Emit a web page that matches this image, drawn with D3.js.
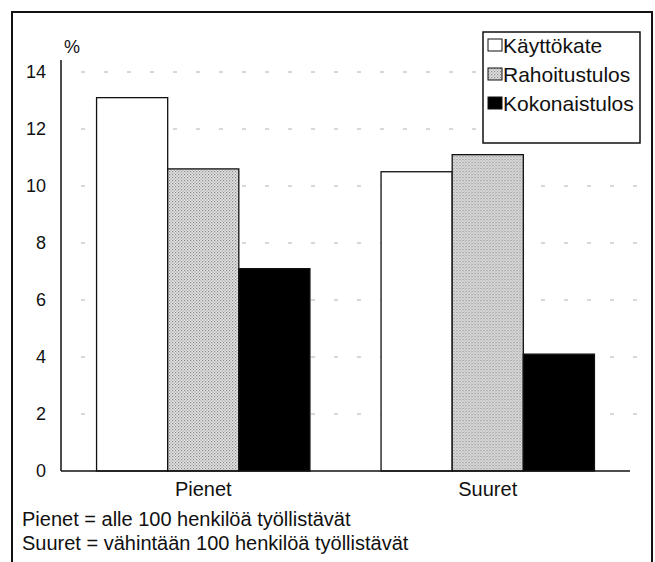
<!DOCTYPE html>
<html>
<head>
<meta charset="utf-8">
<script src="https://cdn.jsdelivr.net/npm/d3@7"></script>
<style>
  body { margin: 0; background: #fff; }
  svg text { font-family: "Liberation Sans", Arial, Helvetica, sans-serif; fill: #111; }
</style>
</head>
<body>
<div id="chart"></div>
<script>
// data
var categories = ["Pienet", "Suuret"];
var seriesNames = ["Käyttökate", "Rahoitustulos", "Kokonaistulos"];
var kayttokate = [13.1, 10.5];
var rahoitustulos = [10.6, 11.1];
var kokonaistulos = [7.1, 4.1];
var yTicks = [0, 2, 4, 6, 8, 10, 12, 14];
var notes = ["Pienet = alle 100 henkilöä työllistävät",
             "Suuret = vähintään 100 henkilöä työllistävät"];

var seriesValues = [kayttokate, rahoitustulos, kokonaistulos];
var fills = ["#fff", "url(#dots)", "#000"];

var width = 655, height = 562;
var margin = { top: 72, left: 61, right: 25, bottom: 91 };

var svg = d3.select("#chart").append("svg")
    .attr("width", width)
    .attr("height", height);

// stipple pattern for the middle series
var pat = svg.append("defs").append("pattern")
    .attr("id", "dots")
    .attr("width", 3).attr("height", 3)
    .attr("patternUnits", "userSpaceOnUse");
pat.append("rect").attr("width", 3).attr("height", 3).attr("fill", "#e4e4e4");
pat.append("rect").attr("x", 0).attr("y", 0).attr("width", 1.2).attr("height", 1.2).attr("fill", "#888");
pat.append("rect").attr("x", 1.5).attr("y", 1.5).attr("width", 1.2).attr("height", 1.2).attr("fill", "#999");

// outer frame
svg.append("rect")
    .attr("x", 12).attr("y", 12)
    .attr("width", 640).attr("height", 560)
    .attr("fill", "none").attr("stroke", "#111").attr("stroke-width", 2);

var x0 = d3.scaleBand()
    .domain(categories)
    .range([margin.left, width - margin.right])
    .padding(0);

var x1 = d3.scaleBand()
    .domain(seriesNames)
    .range([0, x0.bandwidth()])
    .paddingInner(0)
    .paddingOuter(0.5);

var y = d3.scaleLinear()
    .domain([0, 14])
    .range([height - margin.bottom, margin.top]);

// dashed gridlines
svg.append("g").selectAll("line")
    .data(yTicks.filter(function(d) { return d > 0; }))
    .enter().append("line")
    .attr("x1", margin.left + 20)
    .attr("x2", 640)
    .attr("y1", function(d) { return y(d); })
    .attr("y2", function(d) { return y(d); })
    .attr("stroke", "#b0b0b0")
    .attr("stroke-width", 1)
    .attr("stroke-dasharray", "4,19");

// bars
var groups = svg.append("g").selectAll("g")
    .data(categories)
    .enter().append("g")
    .attr("transform", function(d) { return "translate(" + x0(d) + ",0)"; });

groups.selectAll("rect")
    .data(function(d, i) {
        return seriesNames.map(function(s, j) { return { key: s, value: seriesValues[j][i], j: j }; });
    })
    .enter().append("rect")
    .attr("x", function(d) { return x1(d.key); })
    .attr("y", function(d) { return y(d.value); })
    .attr("width", x1.bandwidth())
    .attr("height", function(d) { return y(0) - y(d.value); })
    .attr("fill", function(d) { return fills[d.j]; })
    .attr("stroke", "#111")
    .attr("stroke-width", 1.3);

// y axis
var yAxis = d3.axisLeft(y).tickValues(yTicks).tickSize(0).tickPadding(15);
var gy = svg.append("g")
    .attr("transform", "translate(" + margin.left + ",0)")
    .call(yAxis);
gy.select(".domain").attr("stroke", "#111").attr("stroke-width", 1.5)
    .attr("d", "M0," + (margin.top - 12) + "V" + y(0));
gy.selectAll("text").attr("font-size", 18).style("font-family", "Liberation Sans, Arial, sans-serif").attr("fill", "#111");

// x axis
var xAxis = d3.axisBottom(x0).tickSize(0).tickPadding(11);
var gx = svg.append("g")
    .attr("transform", "translate(0," + y(0) + ")")
    .call(xAxis);
gx.select(".domain").attr("stroke", "#111").attr("stroke-width", 1.5)
    .attr("d", "M" + margin.left + ",0H" + (width - margin.right));
gx.selectAll("text").attr("font-size", 20).style("font-family", "Liberation Sans, Arial, sans-serif").attr("fill", "#111");

// unit label
svg.append("text")
    .attr("x", 64).attr("y", 53)
    .attr("font-size", 18)
    .text("%");

// legend
var legend = svg.append("g").attr("transform", "translate(483,32)");
legend.append("rect")
    .attr("width", 157).attr("height", 111)
    .attr("fill", "#fff").attr("stroke", "#111").attr("stroke-width", 1.5);
var items = legend.selectAll("g.item")
    .data(seriesNames)
    .enter().append("g")
    .attr("class", "item")
    .attr("transform", function(d, i) { return "translate(5," + (13 + i * 29) + ")"; });
items.append("rect")
    .attr("y", -6).attr("width", 14).attr("height", 12)
    .attr("fill", function(d, i) { return fills[i]; })
    .attr("stroke", "#111").attr("stroke-width", 1);
items.append("text")
    .attr("x", 15).attr("dy", "0.36em")
    .attr("font-size", 21)
    .text(function(d) { return d; });

// footnotes
svg.selectAll("text.note")
    .data(notes)
    .enter().append("text")
    .attr("class", "note")
    .attr("x", 22)
    .attr("y", function(d, i) { return 526 + i * 24; })
    .attr("font-size", 20)
    .text(function(d) { return d; });
</script>
</body>
</html>
